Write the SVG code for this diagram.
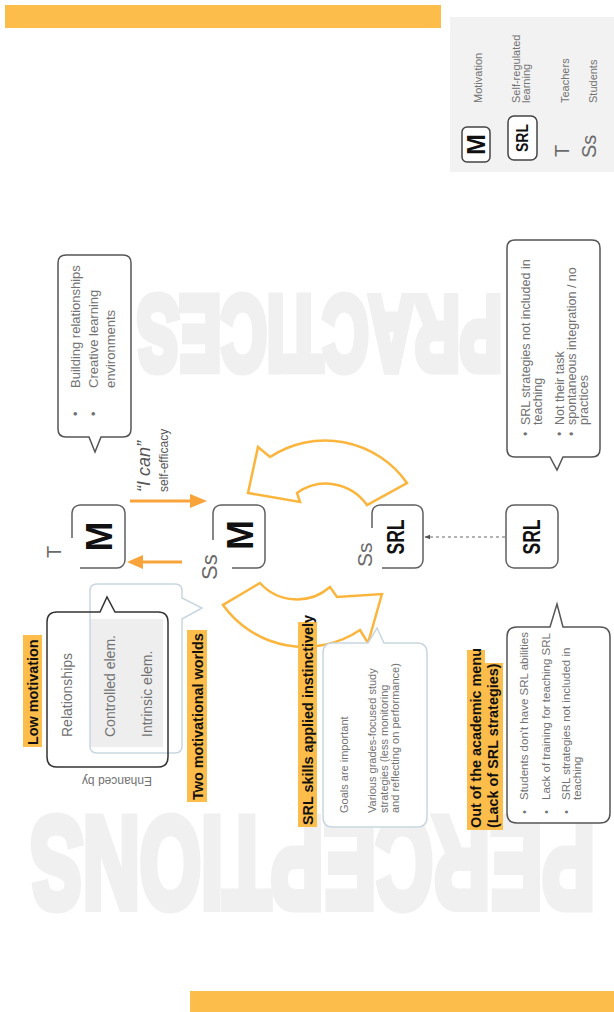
<svg xmlns="http://www.w3.org/2000/svg" width="614" height="1012" viewBox="0 0 614 1012">
<style>
text{font-family:"Liberation Sans",Arial,sans-serif}
.wm{font-family:"Liberation Sans",Arial,sans-serif;font-weight:bold;fill:#f0f0f0;stroke:#f0f0f0;stroke-width:9;stroke-linejoin:miter}
.h{font-size:14.4px;font-weight:bold;fill:#111}
.hl{fill:#fdbd4b}
.g{fill:#727272}
.box{fill:#fff;stroke:#5f5f5f;stroke-width:1.5}
.call{fill:#fff;stroke:#555;stroke-width:1.5}
.callb{fill:none;stroke:#c9d6e0;stroke-width:1.5}
.cyc{fill:#fff;stroke:#fbb53c;stroke-width:2.5;stroke-linejoin:miter}
.big{font-weight:bold;fill:#111}
.lbl{fill:#6a6a6a}
.ic{fill:#f9a33b}
</style>
<defs>
<marker id="ah" viewBox="0 0 10 10" refX="9" refY="5" markerWidth="6" markerHeight="6" orient="auto">
<path d="M0,1 L10,5 L0,9 Z" fill="#555"/>
</marker>
</defs>

<!-- bars -->
<rect x="5" y="5" width="436" height="23" fill="#fdbd4b"/>
<rect x="190" y="991" width="424" height="21" fill="#fdbd4b"/>

<!-- watermarks -->
<text class="wm" transform="translate(502,296.5) rotate(180) scale(0.596,1)" font-size="106" x="0" y="0">PRACTICES</text>
<text class="wm" transform="translate(595,817.5) rotate(180) scale(0.606,1)" font-size="130" x="0" y="0">PERCEPTIONS</text>

<!-- legend -->
<g id="legend">
<rect x="450" y="17" width="164" height="155" fill="#f2f2f2"/>
<rect x="462" y="127" width="28" height="35" rx="5" fill="#fff" stroke="#444" stroke-width="1.5"/>
<text class="big" transform="translate(485,144.5) rotate(-90)" font-size="25" text-anchor="middle">M</text>
<rect x="508" y="116" width="29" height="44" rx="6" fill="#fff" stroke="#444" stroke-width="1.5"/>
<text class="big" transform="translate(528,138) rotate(-90)" font-size="16" text-anchor="middle" textLength="28" lengthAdjust="spacingAndGlyphs">SRL</text>
<text class="lbl" transform="translate(569,157) rotate(-90)" font-size="20">T</text>
<text class="lbl" transform="translate(596,158) rotate(-90)" font-size="20">Ss</text>
<text class="g" transform="translate(482,103) rotate(-90)" font-size="11">Motivation</text>
<text class="g" transform="translate(520,103) rotate(-90)" font-size="11"><tspan x="0" y="0">Self-regulated</tspan><tspan x="0" y="10">learning</tspan></text>
<text class="g" transform="translate(569,103) rotate(-90)" font-size="11">Teachers</text>
<text class="g" transform="translate(597,103) rotate(-90)" font-size="11">Students</text>
</g>

<!-- connectors -->
<g id="connectors">
<path class="cyc" d="M248,493 L258,447 L270,457 A100,100 0 0 1 407,483 L367,505 A50,50 0 0 0 297,493 L300,502 Z"/>
<path class="cyc" d="M382,594 L368,643 L360,630 A100,100 0 0 1 223,605 L260,583 A50,50 0 0 0 330,587 L337,597 Z"/>
<line x1="130" y1="501" x2="193" y2="501" stroke="#f9a33b" stroke-width="3"/>
<path class="ic" d="M190,494 L207,501 L190,508 Z"/>
<line x1="182" y1="562" x2="140" y2="562" stroke="#f9a33b" stroke-width="3"/>
<path class="ic" d="M143,555 L127,562 L143,569 Z"/>
<line x1="505" y1="537" x2="425" y2="537" stroke="#666" stroke-width="1" stroke-dasharray="3,3" marker-end="url(#ah)"/>
</g>

<g id="ican">
<text transform="translate(150,492) rotate(-90)" font-size="18" font-style="italic" fill="#555">“I can”</text>
<text transform="translate(168,492) rotate(-90)" font-size="12" fill="#555">self-efficacy</text>
</g>

<!-- nodes -->
<g id="node-T-M">
<rect class="box" x="72" y="505" width="53" height="63" rx="8"/>
<rect x="44" y="538" width="36" height="32" fill="#fff"/>
<text class="lbl" transform="translate(61,558) rotate(-90)" font-size="20">T</text>
<text class="big" transform="translate(112,536.5) rotate(-90)" font-size="36" text-anchor="middle">M</text>
</g>
<g id="node-Ss-M">
<rect class="box" x="213" y="505" width="52" height="63" rx="8"/>
<rect x="196" y="540" width="36" height="32" fill="#fff"/>
<text class="lbl" transform="translate(217,580) rotate(-90)" font-size="22">Ss</text>
<text class="big" transform="translate(253,535) rotate(-90)" font-size="36" text-anchor="middle">M</text>
</g>
<g id="node-Ss-SRL">
<rect class="box" x="372" y="505" width="51" height="63" rx="8"/>
<rect x="350" y="528" width="32" height="44" fill="#fff"/>
<text class="lbl" transform="translate(372,567) rotate(-90)" font-size="21">Ss</text>
<text class="big" transform="translate(404,537) rotate(-90)" font-size="24" text-anchor="middle" textLength="35" lengthAdjust="spacingAndGlyphs">SRL</text>
</g>
<g id="node-T-SRL">
<rect class="box" x="506" y="505" width="52" height="63" rx="8"/>
<text class="big" transform="translate(540,537) rotate(-90)" font-size="24" text-anchor="middle" textLength="35" lengthAdjust="spacingAndGlyphs">SRL</text>
</g>

<!-- callouts -->
<g id="callout-practices-T">
<path class="call" d="M66,255 H123 Q131,255 131,263 V429 Q131,437 123,437 H101 L95,452 L89,437 H66 Q58,437 58,429 V263 Q58,255 66,255 Z"/>
<text class="g" transform="translate(80,416) rotate(-90)" font-size="13"><tspan x="0" y="0">•</tspan><tspan x="0" y="17.5">•</tspan></text>
<text class="g" transform="translate(80,388) rotate(-90)" font-size="13"><tspan x="0" y="0">Building relationships</tspan><tspan x="0" y="17.5">Creative learning</tspan><tspan x="0" y="35">environments</tspan></text>
</g>
<g id="callout-practices-SRL">
<path class="call" d="M515,240 H592 Q600,240 600,248 V449 Q600,457 592,457 H563 L557,470 L550,457 H515 Q507,457 507,449 V248 Q507,240 515,240 Z"/>
<text class="g" transform="translate(529.5,436) rotate(-90)" font-size="12.5"><tspan x="0" y="0">•</tspan><tspan x="0" y="34.5">•</tspan><tspan x="0" y="46.5">•</tspan></text>
<text class="g" transform="translate(529.5,425) rotate(-90)" font-size="12.5"><tspan x="0" y="0">SRL strategies not included in</tspan><tspan x="0" y="12">teaching</tspan><tspan x="0" y="34.5">Not their task</tspan><tspan x="0" y="46.5">spontaneous integration / no</tspan><tspan x="0" y="58.5">practices</tspan></text>
</g>

<g id="low-motivation">
<rect class="hl" x="23" y="635" width="19" height="112"/>
<text class="h" transform="translate(38,745) rotate(-90)">Low motivation</text>
<rect x="90" y="619" width="73" height="128" fill="#eeeeee"/>
<path class="callb" d="M97,584 H175 Q182,584 182,591 V598 L202,608 L182,619 V746 Q182,753 175,753 H97 Q90,753 90,746 V591 Q90,584 97,584 Z"/>
<path fill="none" stroke="#333" stroke-width="1.5" d="M57,612 H100 L107,597 L115,612 H158 Q168,612 168,622 V757 Q168,767 158,767 H57 Q47,767 47,757 V622 Q47,612 57,612 Z"/>
<text class="g" transform="translate(72,737) rotate(-90)" font-size="14">Relationships</text>
<text class="g" transform="translate(115,737) rotate(-90)" font-size="14">Controlled elem.</text>
<text class="g" transform="translate(152,737) rotate(-90)" font-size="14">Intrinsic elem.</text>
<text class="g" transform="translate(152,777) rotate(180)" font-size="12">Enhanced by</text>
</g>

<g id="two-worlds">
<rect class="hl" x="187" y="630" width="20" height="172"/>
<text class="h" transform="translate(203,800) rotate(-90)">Two motivational worlds</text>
</g>

<g id="srl-instinct">
<rect class="hl" x="298" y="622" width="19" height="205"/>
<text class="h" transform="translate(313,825) rotate(-90)">SRL skills applied instinctively</text>
<path fill="#fff" stroke="#c9d6e0" stroke-width="1.5" d="M333,643 H368 L377,628 L384,643 H417 Q427,643 427,653 V817 Q427,827 417,827 H333 Q323,827 323,817 V653 Q323,643 333,643 Z"/>
<text class="g" transform="translate(348,813) rotate(-90)" font-size="11"><tspan x="0" y="0">Goals are important</tspan><tspan x="0" y="28">Various grades-focused study</tspan><tspan x="0" y="39.5">strategies (less monitoring</tspan><tspan x="0" y="51">and reflecting on performance)</tspan></text>
</g>

<g id="out-of-menu">
<rect class="hl" x="467" y="650" width="18" height="180"/>
<rect class="hl" x="485" y="663" width="18" height="167"/>
<text class="h" transform="translate(481,828) rotate(-90)"><tspan x="0" y="0">Out of the academic menu</tspan><tspan x="0" y="17">(Lack of SRL strategies)</tspan></text>
<path class="call" d="M517,627 H550 L557,604 L563,627 H600 Q610,627 610,637 V813 Q610,823 600,823 H517 Q507,823 507,813 V637 Q507,627 517,627 Z"/>
<text class="g" transform="translate(528,814) rotate(-90)" font-size="11.5"><tspan x="0" y="0">•</tspan><tspan x="0" y="21.5">•</tspan><tspan x="0" y="42">•</tspan></text>
<text class="g" transform="translate(528,800) rotate(-90)" font-size="11.5"><tspan x="0" y="0">Students don't have SRL abilities</tspan><tspan x="0" y="21.5">Lack of training for teaching SRL</tspan><tspan x="0" y="42">SRL strategies not included in</tspan><tspan x="0" y="52.5">teaching</tspan></text>
</g>
</svg>
